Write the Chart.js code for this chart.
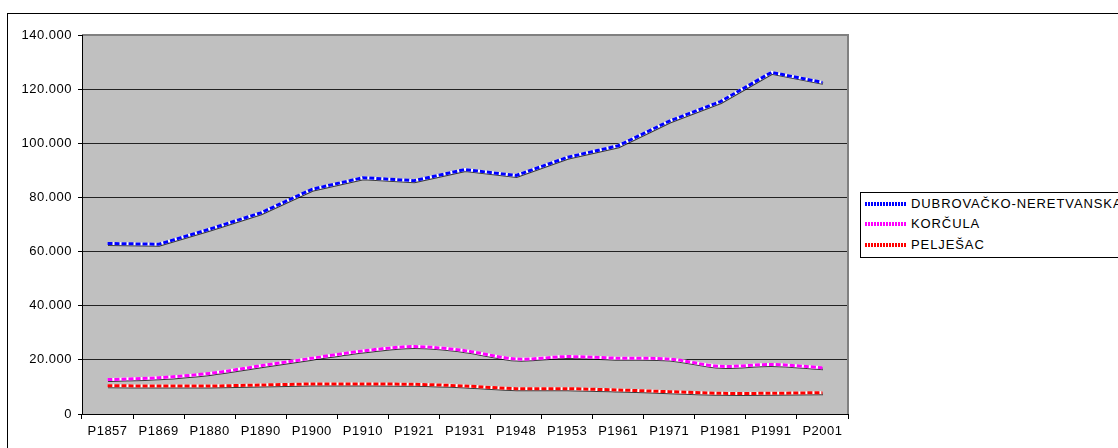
<!DOCTYPE html>
<html>
<head>
<meta charset="utf-8">
<script src="https://cdn.jsdelivr.net/npm/chart.js@4/dist/chart.umd.min.js"></script>
<style>
  body { margin: 0; background: #fff; overflow: hidden; }
  #wrap { position: relative; width: 1118px; height: 448px; overflow: hidden; }
  #frame { position: absolute; left: 7px; top: 13px; width: 1200px; height: 500px; border: 1px solid #000; }
  canvas { position: absolute; left: 0; top: 0; }
  #legend { position: absolute; left: 860px; top: 192px; width: 300px; height: 64px; border: 1px solid #000; background: #fff;
    font-family: "Liberation Sans", Arial, sans-serif; font-size: 13px; letter-spacing: 0.9px; color: #000; }
  .item { position: absolute; left: 4px; height: 14px; line-height: 14px; white-space: nowrap; }
  .swatch { display: inline-block; width: 42px; height: 4px; vertical-align: middle; margin-right: 4px; position: relative; top: -1px; }
</style>
</head>
<body>
<div id="wrap">
  <div id="frame"></div>
  <canvas id="grafikon" width="1118" height="448"></canvas>
  <div id="legend"></div>
</div>
<script>
// podaci
var godine = ['P1857', 'P1869', 'P1880', 'P1890', 'P1900', 'P1910', 'P1921', 'P1931', 'P1948', 'P1953', 'P1961', 'P1971', 'P1981', 'P1991', 'P2001'];
var nazivi = ['DUBROVAČKO-NERETVANSKA', 'KORČULA', 'PELJEŠAC'];
var dubrovacko = [63000, 62700, 68300, 74300, 83000, 87300, 86200, 90300, 88100, 94800, 99100, 108200, 115400, 126200, 122500];
var korcula = [12700, 13400, 15000, 17800, 20600, 23300, 24900, 23400, 20300, 21200, 20600, 20300, 17600, 18300, 17100];
var peljesac = [10450, 10340, 10340, 10700, 11080, 11080, 10960, 10340, 9350, 9350, 8870, 8250, 7650, 7650, 7880];
var yTicks = [0, 20000, 40000, 60000, 80000, 100000, 120000, 140000];

var serije = [dubrovacko, korcula, peljesac];
var boje = ['#0000ff', '#ff00ff', '#ff0000'];
var napetost = [0, 0.3, 0.3];

function formatBroj(v) {
    return String(v).replace(/\B(?=(\d{3})+(?!\d))/g, '.');
}

var datasets = [];
for (var i = 0; i < serije.length; i++) {
    // obojana isprekidana linija
    datasets.push({
        label: nazivi[i],
        data: serije[i],
        borderColor: boje[i],
        borderWidth: 3,
        borderDash: [5, 2],
        pointRadius: 0,
        tension: napetost[i],
        order: 0
    });
    // bijela podloga sa sjenom
    datasets.push({
        label: nazivi[i] + '_bg',
        data: serije[i],
        borderColor: '#ffffff',
        borderWidth: 3,
        pointRadius: 0,
        tension: napetost[i],
        shadow: true,
        order: 1
    });
}

var pozadina = {
    id: 'pozadina',
    beforeDraw: function (chart) {
        var a = chart.chartArea, ctx = chart.ctx;
        ctx.save();
        ctx.fillStyle = '#c0c0c0';
        ctx.fillRect(a.left, a.top, a.right - a.left, a.bottom - a.top);
        ctx.restore();
        ctx.letterSpacing = '0.5px';
    },
    afterDraw: function (chart) {
        var a = chart.chartArea, ctx = chart.ctx;
        ctx.save();
        ctx.strokeStyle = '#808080';
        ctx.lineWidth = 2;
        ctx.beginPath();
        ctx.moveTo(a.left, a.top);
        ctx.lineTo(a.right, a.top);
        ctx.lineTo(a.right, a.bottom);
        ctx.stroke();
        ctx.strokeStyle = '#000';
        ctx.lineWidth = 1;
        ctx.beginPath();
        ctx.moveTo(a.left + 0.5, a.top);
        ctx.lineTo(a.left + 0.5, a.bottom + 0.5);
        ctx.lineTo(a.right, a.bottom + 0.5);
        ctx.stroke();
        ctx.restore();
    },
    beforeDatasetDraw: function (chart, args) {
        var ds = chart.data.datasets[args.index];
        if (ds.shadow) {
            var ctx = chart.ctx;
            ctx.save();
            ctx.shadowColor = 'rgba(0,0,0,0.7)';
            ctx.shadowOffsetX = 0.5;
            ctx.shadowOffsetY = 1;
            ctx.shadowBlur = 0;
            ds._saved = true;
        }
    },
    afterDatasetDraw: function (chart, args) {
        var ds = chart.data.datasets[args.index];
        if (ds._saved) {
            chart.ctx.restore();
            ds._saved = false;
        }
    }
};

var ctx = document.getElementById('grafikon').getContext('2d');
var chart = new Chart(ctx, {
    type: 'line',
    data: { labels: godine, datasets: datasets },
    options: {
        responsive: false,
        animation: false,
        layout: { padding: { top: 35, right: 270, left: 0, bottom: 0 } },
        plugins: { legend: { display: false }, tooltip: { enabled: false } },
        scales: {
            x: {
                offset: true,
                grid: { offset: true, drawOnChartArea: false, tickLength: 5, tickColor: '#000' },
                border: { display: false },
                ticks: { color: '#000', padding: 5, maxRotation: 0, autoSkip: false,
                    font: { family: 'Liberation Sans', size: 13 } },
                afterFit: function (s) { s.height = 34; }
            },
            y: {
                min: 0,
                max: 140000,
                afterBuildTicks: function (s) { s.ticks = yTicks.map(function (v) { return { value: v }; }); },
                grid: {
                    color: function (c) { return c.tick && c.tick.value === 140000 ? '#808080' : '#222'; },
                    tickLength: 4, tickColor: '#000'
                },
                border: { display: false },
                ticks: { color: '#000', padding: 6, callback: function (v) { return formatBroj(v); },
                    font: { family: 'Liberation Sans', size: 13 } },
                afterFit: function (s) { s.width = 82; }
            }
        }
    },
    plugins: [pozadina]
});

// legenda
var legend = document.getElementById('legend');
var vrhovi = [4, 24, 45];
for (var k = 0; k < nazivi.length; k++) {
    var item = document.createElement('div');
    item.className = 'item';
    item.style.top = vrhovi[k] + 'px';
    var sw = document.createElement('span');
    sw.className = 'swatch';
    sw.style.background = 'repeating-linear-gradient(90deg, ' + boje[k] + ' 0 2px, #ffffff 2px 3px)';
    item.appendChild(sw);
    item.appendChild(document.createTextNode(nazivi[k]));
    legend.appendChild(item);
}
</script>
</body>
</html>
